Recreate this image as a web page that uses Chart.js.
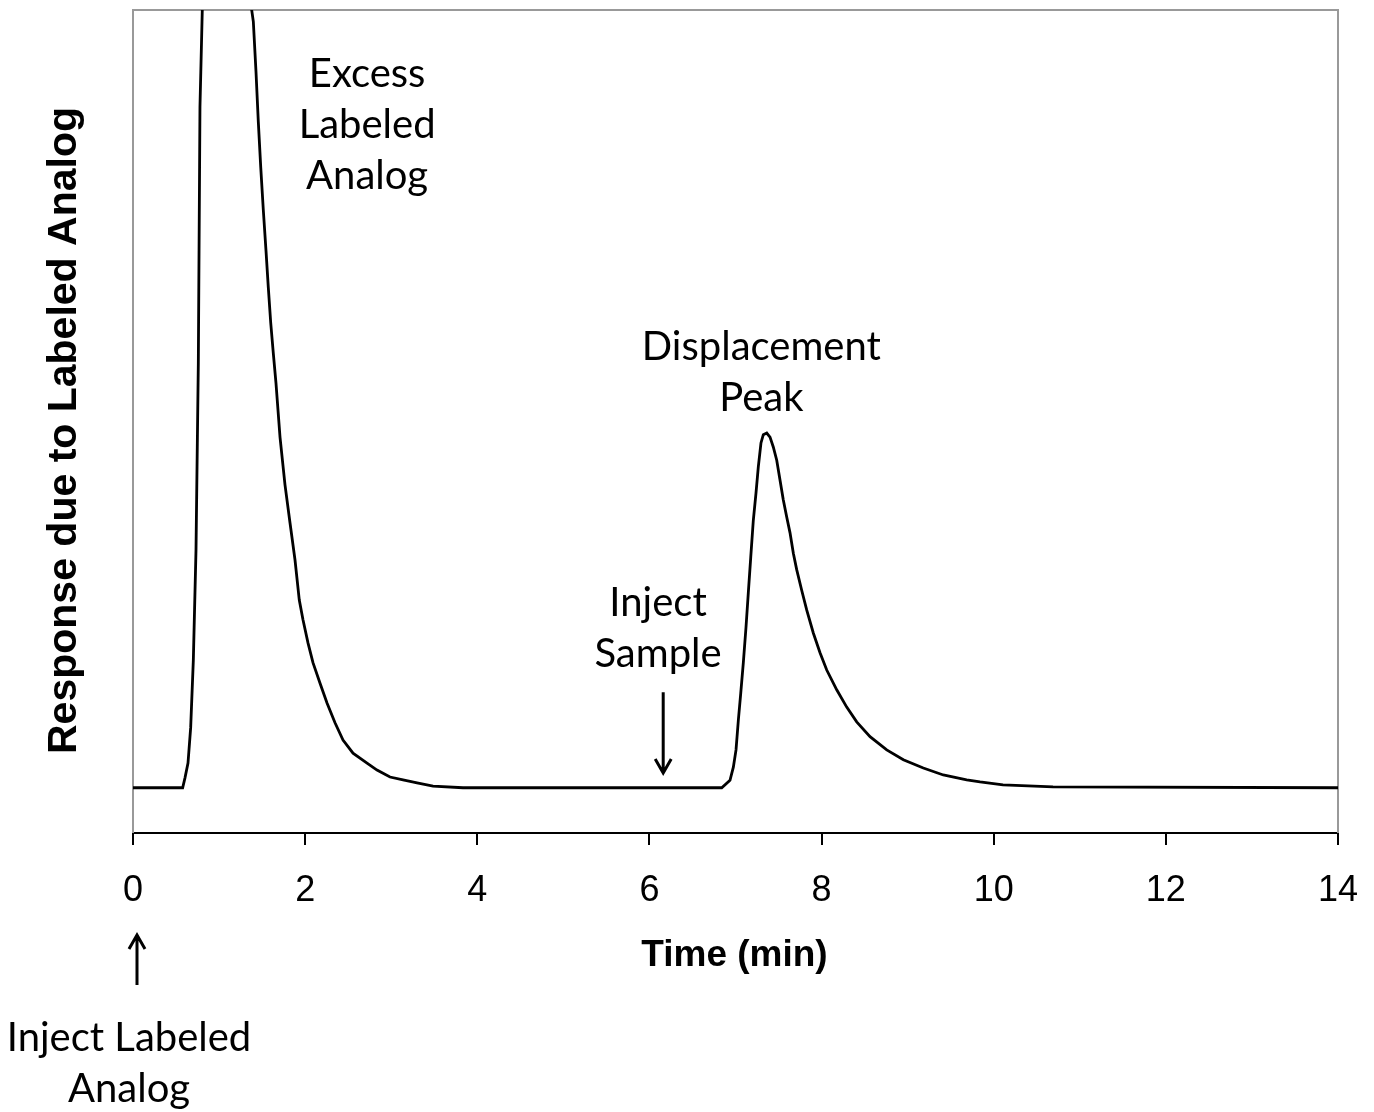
<!DOCTYPE html>
<html>
<head>
<meta charset="utf-8">
<script src="https://cdn.jsdelivr.net/npm/chart.js@4.4.1/dist/chart.umd.min.js"></script>
<style>
  html, body { margin:0; padding:0; background:#fff; }
  #wrap { width:1374px; height:1112px; position:relative; }
</style>
</head>
<body>
<div id="wrap"><canvas id="chromChart"></canvas></div>
<script>
// chromatogram trace: time (min) and detector response (arbitrary, 0-100 scale)
const timeMin = [
  0, 0.577, 0.604, 0.639, 0.670, 0.701, 0.732, 0.759, 0.778, 0.805, 0.83,
  1.36, 1.379, 1.398, 1.429, 1.456, 1.484, 1.514, 1.545, 1.572, 1.600, 1.630, 1.661,
  1.708, 1.766, 1.824, 1.882, 1.932, 1.975, 2.033, 2.091, 2.173, 2.254, 2.347, 2.440,
  2.556, 2.719, 2.835, 2.986, 3.137, 3.300, 3.486, 3.834,
  6.840, 6.936, 6.975, 7.006, 7.033, 7.061, 7.091, 7.122, 7.149, 7.177, 7.207, 7.238,
  7.265, 7.296, 7.323, 7.363, 7.401, 7.439, 7.479, 7.517, 7.555, 7.595, 7.633, 7.672,
  7.711, 7.769, 7.827, 7.904, 7.982, 8.060, 8.176, 8.292, 8.408, 8.563, 8.757, 8.950,
  9.182, 9.414, 9.686, 9.841, 10.108, 10.689, 14
];
const response = [
  5.5, 5.5, 6.7, 8.5, 12.8, 21.0, 34.4, 57.1, 88.2, 100, 200,
  200, 100, 98.6, 92.5, 86.4, 80.9, 75.7, 70.8, 66.3, 62.0, 58.3, 54.7,
  48.1, 42.3, 37.7, 33.2, 28.3, 25.9, 23.1, 20.7, 18.2, 15.8, 13.4, 11.3,
  9.7, 8.5, 7.65, 6.8, 6.45, 6.1, 5.7, 5.5,
  5.5, 6.4, 8.0, 10.1, 13.7, 17.0, 20.7, 25.0, 29.2, 33.5, 38.0, 41.3,
  44.5, 47.4, 48.4, 48.6, 48.1, 46.9, 45.3, 42.9, 40.5, 38.4, 36.5, 34.0,
  32.0, 29.5, 27.1, 24.3, 21.9, 19.8, 17.4, 15.3, 13.5, 11.7, 10.1, 8.9,
  7.9, 7.05, 6.45, 6.2, 5.85, 5.6, 5.5
];
const xTicks = [0, 2, 4, 6, 8, 10, 12, 14];

// text notes inside the plot (x in min, y on response scale)
const notes = [
  { lines: ['Excess', 'Labeled', 'Analog'], t: 2.72, v: 92.2 },
  { lines: ['Displacement', 'Peak'], t: 7.30, v: 59.0 },
  { lines: ['Inject', 'Sample'], t: 6.10, v: 27.9 }
];
const sampleArrow = { t: 6.16, from: 17.1, to: 7.3 };

const NOTE_FONT = '40px Lato, "Open Sans", sans-serif';
const LINE_H = 51;

function arrow(ctx, x, y1, y2){
  const dir = y2 > y1 ? 1 : -1;
  ctx.beginPath();
  ctx.moveTo(x, y1); ctx.lineTo(x, y2);
  ctx.moveTo(x - 8, y2 - dir*14); ctx.lineTo(x, y2); ctx.lineTo(x + 8, y2 - dir*14);
  ctx.stroke();
}

const extras = {
  id: 'extras',
  beforeDatasetsDraw(chart){
    const {ctx, chartArea:a} = chart;
    ctx.save();
    ctx.strokeStyle = '#999'; ctx.lineWidth = 2;
    ctx.beginPath();
    ctx.moveTo(a.left, a.bottom); ctx.lineTo(a.left, a.top);
    ctx.lineTo(a.right, a.top); ctx.lineTo(a.right, a.bottom);
    ctx.stroke();
    ctx.restore();
  },
  afterDraw(chart){
    const {ctx, chartArea:a, scales:{x, y}} = chart;
    ctx.save();
    ctx.fillStyle = '#000'; ctx.strokeStyle = '#000';
    ctx.textAlign = 'center'; ctx.textBaseline = 'middle';
    ctx.font = NOTE_FONT;
    notes.forEach(n => {
      const px = x.getPixelForValue(n.t), py = y.getPixelForValue(n.v);
      n.lines.forEach((s, i) => ctx.fillText(s, px, py + i*LINE_H));
    });
    ctx.lineWidth = 3;
    arrow(ctx, x.getPixelForValue(sampleArrow.t), y.getPixelForValue(sampleArrow.from), y.getPixelForValue(sampleArrow.to));

    // injection at t = 0, below the axis
    const x0 = x.getPixelForValue(0);
    arrow(ctx, x0 + 4, a.bottom + 152, a.bottom + 102);
    ctx.fillText('Inject Labeled', x0 - 4, a.bottom + 205);
    ctx.fillText('Analog', x0 - 4, a.bottom + 256);

    // axis titles
    ctx.font = 'bold 37px "Liberation Sans", Arial, sans-serif';
    ctx.fillText('Time (min)', (a.left + a.right)/2 - 1, a.bottom + 123);
    ctx.translate(65, (a.top + a.bottom)/2 + 9);
    ctx.rotate(-Math.PI/2);
    ctx.font = 'bold 41px "Liberation Sans", Arial, sans-serif';
    ctx.fillText('Response due to Labeled Analog', 0, 0);
    ctx.restore();
  }
};

new Chart(document.getElementById('chromChart'), {
  type: 'line',
  data: {
    datasets: [{
      data: timeMin.map((t, i) => ({ x: t, y: response[i] })),
      borderColor: '#000', borderWidth: 2.8, pointRadius: 0, tension: 0, fill: false
    }]
  },
  options: {
    responsive: true, maintainAspectRatio: false, animation: false,
    devicePixelRatio: 1,
    layout: { padding: { left: 133, right: 36, top: 10, bottom: 0 } },
    plugins: { legend: { display: false }, tooltip: { enabled: false } },
    scales: {
      x: {
        type: 'linear', min: 0, max: 14,
        afterBuildTicks(s){ s.ticks = xTicks.map(v => ({ value: v })); },
        afterFit(s){ s.height = 1112 - 833; s.paddingLeft = 0; s.paddingRight = 0; },
        border: { display: true, color: '#000', width: 2 },
        grid: { display: true, drawOnChartArea: false, drawTicks: true, tickLength: 12, color: '#000', lineWidth: 2 },
        ticks: { color: '#000', padding: 24, maxRotation: 0, font: { family: '"Liberation Sans", Arial, sans-serif', size: 36 } }
      },
      y: { display: false, min: 0, max: 100 }
    }
  },
  plugins: [extras]
});
</script>
</body>
</html>
